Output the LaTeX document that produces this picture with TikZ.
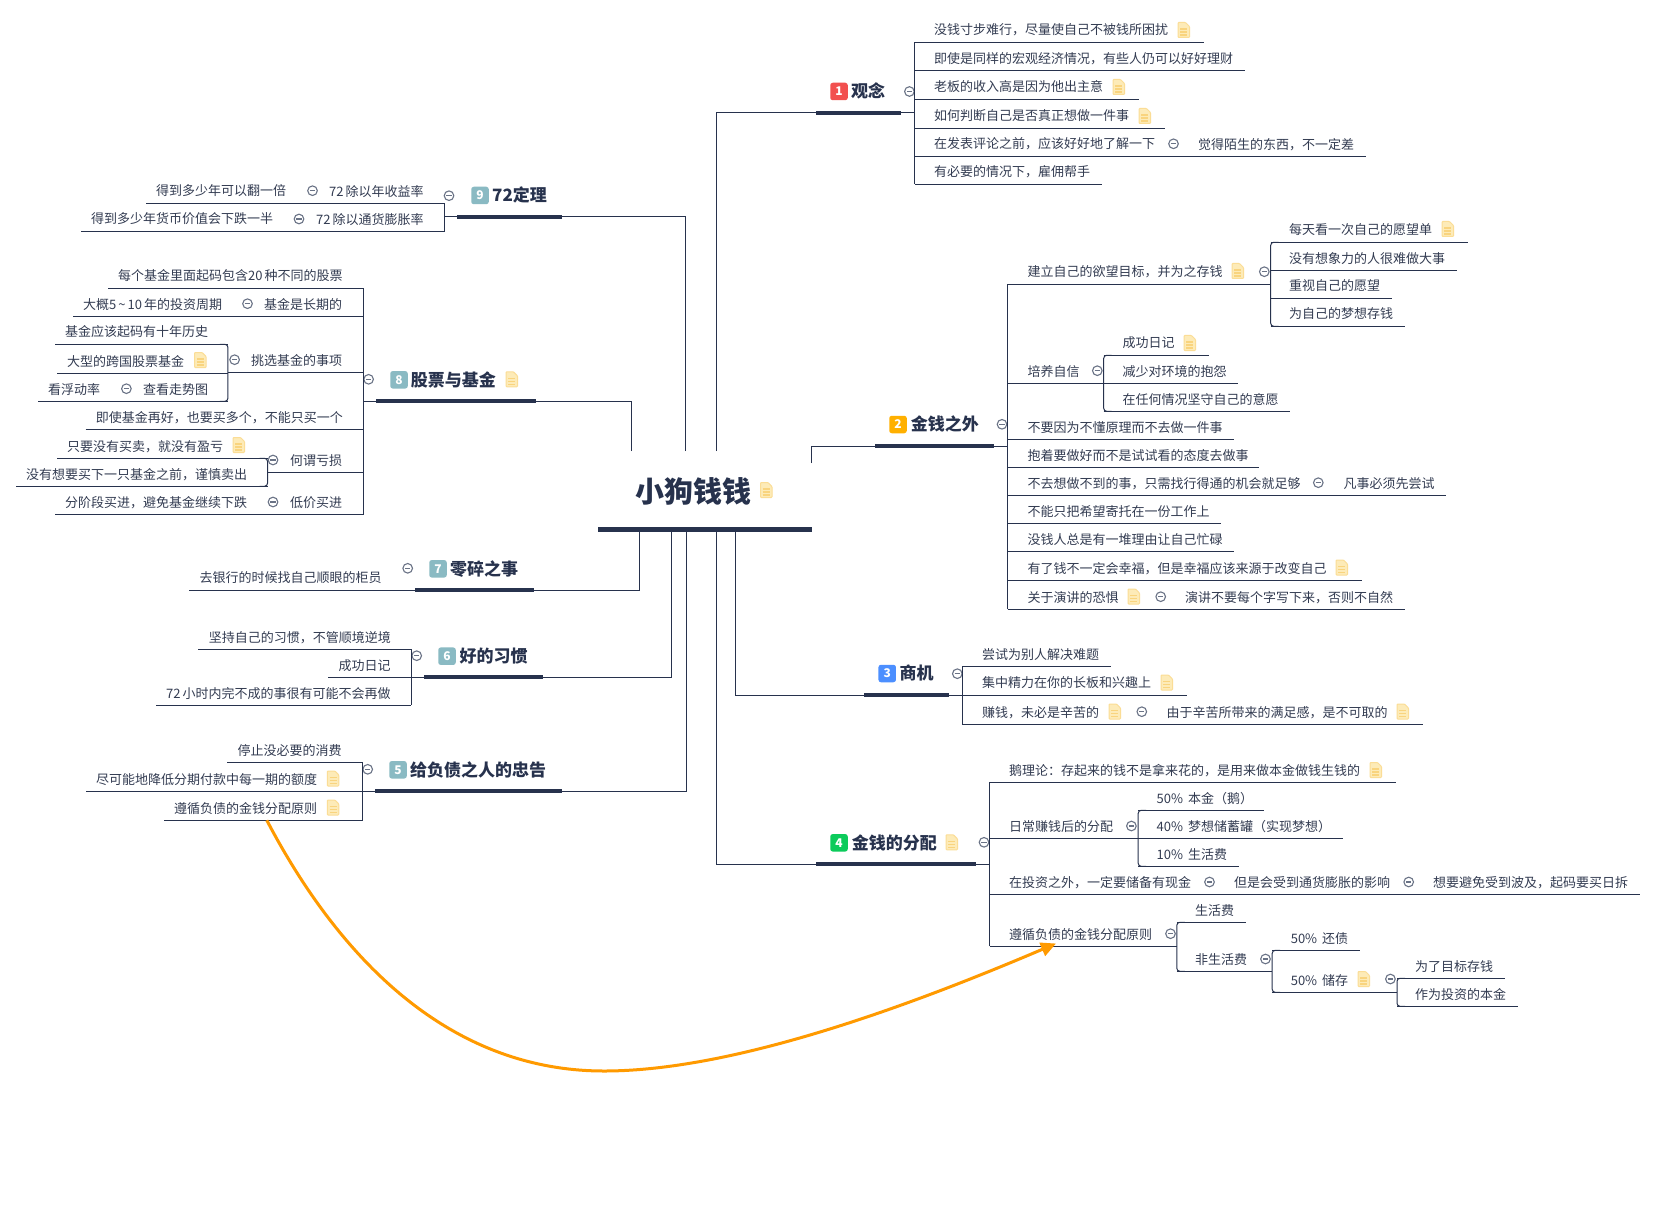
\documentclass[tikz,border=0pt]{standalone}
\usepackage{fontspec}
\setmainfont{Noto Sans CJK SC}
\usetikzlibrary{calc,arrows.meta}
\definecolor{ink}{HTML}{27324D}
\definecolor{rowtext}{HTML}{333C52}
\definecolor{noteFill}{HTML}{FDEBB8}
\definecolor{noteEdge}{HTML}{FBDD96}
\definecolor{noteLine}{HTML}{F9D47E}
\definecolor{knob}{HTML}{6A7386}
\definecolor{redB}{HTML}{F2504F}
\definecolor{orangeB}{HTML}{FFB000}
\definecolor{blueB}{HTML}{4C8FFF}
\definecolor{greenB}{HTML}{0CCB5B}
\definecolor{tealB}{HTML}{8ABAC3}
\definecolor{linkO}{HTML}{FF9A00}
\tikzset{
  conn/.style={draw=ink,line width=1pt},
  barline/.style={draw=ink,line width=4pt},
  rootbar/.style={draw=ink,line width=5pt},
  rowlabel/.style={anchor=west,inner sep=0pt,text=rowtext,text height=10.5pt,text depth=2.5pt,font=\fontsize{13}{15}\selectfont},
  mainlabel/.style={anchor=west,inner sep=0pt,text=ink,text height=14pt,text depth=3pt,font=\fontsize{17}{20}\selectfont\bfseries},
  rootlabel/.style={anchor=west,inner sep=0pt,text=ink,font=\fontsize{29}{33}\selectfont\bfseries},
  badge/.style={anchor=center,inner sep=0pt,minimum width=17.5pt,minimum height=17.5pt,rounded corners=2.5pt,text=white,font=\fontsize{12}{14}\selectfont\bfseries},
  linkarrow/.style={draw=linkO,line width=3pt,-{Triangle[length=15pt,width=14pt]}}
}
% row: name, x0, x1, underline y, text x, text
\newcommand{\rowT}[6]{%
  \node[rowlabel] (#1) at (#5,#4-11.3) {#6};
  \coordinate (#1 l) at (#2,#4);
  \coordinate (#1 r) at (#3,#4);
  \draw[conn] (#1 l) -- (#1 r);}
% extra text on a row: name, x, cy, text
\newcommand{\extraT}[4]{\node[rowlabel] (#1) at (#2,#3+1.6) {#4};}
% digits spacing
\newcommand{\dg}{\kern2pt\relax}
% right / left spines
\newcommand{\spR}[2]{\draw[conn] (#1 l) -- (#2 l);}
\newcommand{\spL}[2]{\draw[conn] (#1 r) -- (#2 r);}
\newcommand{\spRr}[2]{\draw[conn,rounded corners=3pt] ($(#1 l)+(8,0)$) -- (#1 l) -- (#2 l) -- ($(#2 l)+(8,0)$);}
\newcommand{\spLr}[2]{\draw[conn,rounded corners=3pt] ($(#1 r)+(-8,0)$) -- (#1 r) -- (#2 r) -- ($(#2 r)+(-8,0)$);}
% note icon: left x, centre y
\newcommand{\noteI}[2]{%
  \begin{scope}[shift={(#1,#2)}]
    \fill[noteFill,draw=noteEdge,line width=1pt,rounded corners=0.8pt] (0,-7.5) -- (7.5,-7.5) -- (11.5,-3.5) -- (11.5,7.5) -- (0,7.5) -- cycle;
    \draw[noteLine,line width=1.3pt] (2.2,-1) -- (9.2,-1) (2.2,2) -- (9.2,2) (2.2,5) -- (9.2,5);
  \end{scope}}
% collapse knob: x, y
\newcommand{\knobI}[2]{%
  \fill[white] (#1,#2) circle (5pt);
  \draw[knob,line width=1.1pt] (#1,#2) circle (4.8pt);
  \draw[knob,line width=1.1pt] ($(#1,#2)+(-2.6,0)$) -- ($(#1,#2)+(2.6,0)$);}
% main topic: name, badge colour, number, badge cx, text x, cy, text, bar x0, bar y
\newcommand{\mainT}[9]{%
  \node[badge,fill=#2] (#1 b) at (#4,#6+0.5) {#3};
  \node[mainlabel] (#1) at (#5,#6+1.4) {#7};
  \coordinate (#1 L) at (#8,#9);}
\begin{document}
\begin{tikzpicture}[x=1pt,y=-1pt]
\useasboundingbox (0,0) rectangle (1656,1222);
\fill[white] (0,0) rectangle (1656,1222);

%%% root
\node[rootlabel] (root) at (635,491) {小狗钱钱};
\noteI{760.5}{490}
\coordinate (rootL) at (598,529);
\coordinate (rootR) at (812,529);
\draw[rootbar] (rootL) -- (rootR);

%%% 1 观念
\mainT{m1}{redB}{1}{839}{851}{91}{观念}{816}{113}
\coordinate (m1 R) at (901,113);
\draw[barline] (m1 L) -- (m1 R);
\coordinate (up1) at (716,451);
\draw[conn] (up1) |- (m1 L);
\knobI{909.4}{91.5}
\rowT{a1}{914.8}{1203.7}{42.3}{934}{没钱寸步难行，尽量使自己不被钱所困扰}
\noteI{1178}{30}
\rowT{a2}{914.8}{1244.7}{70.5}{934}{即使是同样的宏观经济情况，有些人仍可以好好理财}
\rowT{a3}{914.8}{1138.7}{99.3}{934}{老板的收入高是因为他出主意}
\noteI{1113}{87}
\rowT{a4}{914.8}{1164.7}{128.3}{934}{如何判断自己是否真正想做一件事}
\noteI{1139}{116}
\rowT{a5}{914.8}{1365.6}{156.3}{934}{在发表评论之前，应该好好地了解一下}
\knobI{1173.5}{143.8}
\extraT{a5b}{1198}{143.5}{觉得陌生的东西，不一定差}
\rowT{a6}{914.8}{1101.6}{184.3}{934}{有必要的情况下，雇佣帮手}
\spR{a1}{a6}
\draw[conn] (m1 R) -- (a4 l |- m1 R);

%%% 2 金钱之外
\mainT{m2}{orangeB}{2}{898}{910.7}{424}{金钱之外}{875}{446}
\coordinate (m2 R) at (994,446);
\draw[barline] (m2 L) -- (m2 R);
\coordinate (up2) at (811.3,463);
\draw[conn] (up2) |- (m2 L);
\knobI{1002}{424.3}
\rowT{b1}{1007.5}{1270.7}{284.3}{1027.3}{建立自己的欲望目标，并为之存钱}
\noteI{1232}{271}
\knobI{1264.3}{271.7}
\rowT{b11}{1270.7}{1467.7}{242.3}{1289}{每天看一次自己的愿望单}
\noteI{1442}{229}
\rowT{b12}{1270.7}{1456.7}{270.7}{1289}{没有想象力的人很难做大事}
\rowT{b13}{1270.7}{1391.7}{298.3}{1289}{重视自己的愿望}
\rowT{b14}{1270.7}{1404.7}{326.3}{1289}{为自己的梦想存钱}
\spRr{b11}{b14}
\rowT{b2}{1007.5}{1103.7}{383.3}{1027.3}{培养自信}
\knobI{1097.3}{370.7}
\rowT{b21}{1103.7}{1209.3}{355.3}{1122.3}{成功日记}
\noteI{1184}{343}
\rowT{b22}{1103.7}{1237.7}{383.3}{1122.3}{减少对环境的抱怨}
\rowT{b23}{1103.7}{1289.7}{411.3}{1122.3}{在任何情况坚守自己的意愿}
\spRr{b21}{b23}
\rowT{b3}{1007.5}{1233.7}{439.3}{1027.3}{不要因为不懂原理而不去做一件事}
\rowT{b4}{1007.5}{1259.3}{467.3}{1027.3}{抱着要做好而不是试试看的态度去做事}
\rowT{b5}{1007.5}{1445.7}{495.3}{1027.3}{不去想做不到的事，只需找行得通的机会就足够}
\knobI{1318.3}{482.7}
\extraT{b5b}{1343.3}{482.5}{凡事必须先尝试}
\rowT{b6}{1007.5}{1220.7}{523.3}{1027.3}{不能只把希望寄托在一份工作上}
\rowT{b7}{1007.5}{1233.7}{551.3}{1027.3}{没钱人总是有一堆理由让自己忙碌}
\rowT{b8}{1007.5}{1361.7}{580.3}{1027.3}{有了钱不一定会幸福，但是幸福应该来源于改变自己}
\noteI{1336}{567.5}
\rowT{b9}{1007.5}{1404.6}{609.3}{1027.3}{关于演讲的恐惧}
\noteI{1128}{596.5}
\knobI{1160.7}{596.7}
\extraT{b9b}{1185}{596.5}{演讲不要每个字写下来，否则不自然}
\spR{b1}{b9}
\draw[conn] (m2 R) -- (b1 l |- m2 R);

%%% 3 商机
\mainT{m3}{blueB}{3}{887.2}{899.3}{673}{商机}{864}{695}
\coordinate (m3 R) at (949,695);
\draw[barline] (m3 L) -- (m3 R);
\coordinate (dn3) at (735,532);
\draw[conn] (dn3) |- (m3 L);
\knobI{957.3}{673.7}
\rowT{c1}{962.3}{1110.7}{666.3}{982}{尝试为别人解决难题}
\rowT{c2}{962.3}{1186.8}{695}{982}{集中精力在你的长板和兴趣上}
\noteI{1161}{682.5}
\rowT{c3}{962.3}{1422.5}{724.3}{982}{赚钱，未必是辛苦的}
\noteI{1109}{711.5}
\knobI{1141.8}{711.7}
\extraT{c3b}{1166.4}{711.5}{由于辛苦所带来的满足感，是不可取的}
\noteI{1397}{711.5}
\spR{c1}{c3}
\draw[conn] (m3 R) -- (c1 l |- m3 R);

%%% 4 金钱的分配
\mainT{m4}{greenB}{4}{839}{851.7}{842.3}{金钱的分配}{816}{864}
\coordinate (m4 R) at (975.7,864);
\draw[barline] (m4 L) -- (m4 R);
\coordinate (dn4) at (716,532);
\draw[conn] (dn4) |- (m4 L);
\noteI{946}{842.3}
\knobI{984}{842.3}
\rowT{d1}{989.5}{1395.7}{782.3}{1009}{鹅理论：存起来的钱不是拿来花的，是用来做本金做钱生钱的}
\noteI{1370}{770}
\rowT{d2}{989.5}{1138.2}{838.3}{1009}{日常赚钱后的分配}
\knobI{1131.4}{826}
\rowT{d21}{1138.2}{1264}{810.3}{1156.5}{50\%\dg{} 本金（鹅）}
\rowT{d22}{1138.2}{1342.6}{838.3}{1156.5}{40\%\dg{} 梦想储蓄罐（实现梦想）}
\rowT{d23}{1138.2}{1238.5}{866.3}{1156.5}{10\%\dg{} 生活费}
\spRr{d21}{d23}
\rowT{d3}{989.5}{1639.6}{894.3}{1009}{在投资之外，一定要储备有现金}
\knobI{1209.5}{882}
\extraT{d3b}{1234}{881.5}{但是会受到通货膨胀的影响}
\knobI{1408.7}{882}
\extraT{d3c}{1432.8}{881.5}{想要避免受到波及，起码要买日拆}
\rowT{d4}{989.5}{1176.8}{946.3}{1009}{遵循负债的金钱分配原则}
\knobI{1170.5}{933.7}
\rowT{d41}{1176.8}{1245.7}{922.3}{1195}{生活费}
\rowT{d42}{1176.8}{1272.2}{971.3}{1195}{非生活费}
\spRr{d41}{d42}
\knobI{1265.5}{959}
\rowT{d421}{1272.2}{1359.5}{950.3}{1290.6}{50\%\dg{} 还债}
\rowT{d422}{1272.2}{1397}{992.3}{1290.6}{50\%\dg{} 储存}
\spRr{d421}{d422}
\noteI{1358}{979}
\knobI{1390.4}{979}
\rowT{d4221}{1397}{1504.6}{978.3}{1415}{为了目标存钱}
\rowT{d4222}{1397}{1517.6}{1006.3}{1415}{作为投资的本金}
\spRr{d4221}{d4222}
\spR{d1}{d4}
\draw[conn] (m4 R) -- (d1 l |- m4 R);

%%% 5 给负债之人的忠告
\mainT{m5}{tealB}{5}{398}{410}{769.3}{给负债之人的忠告}{375}{791}
\coordinate (m5 R) at (562,791);
\draw[barline] (m5 L) -- (m5 R);
\coordinate (dn5) at (686.7,532);
\draw[conn] (dn5) |- (m5 R);
\knobI{367.7}{769.3}
\rowT{e1}{227.3}{362.7}{762.3}{237.3}{停止没必要的消费}
\rowT{e2}{86}{362.7}{791.3}{96}{尽可能地降低分期付款中每一期的额度}
\noteI{327.3}{778.5}
\rowT{e3}{164.3}{362.7}{820.3}{174}{遵循负债的金钱分配原则}
\noteI{327.3}{807.5}
\spL{e1}{e3}
\draw[conn] (m5 L) -- (e1 r |- m5 L);

%%% 6 好的习惯
\mainT{m6}{tealB}{6}{447}{459.3}{655.7}{好的习惯}{424}{677}
\coordinate (m6 R) at (542.7,677);
\draw[barline] (m6 L) -- (m6 R);
\coordinate (dn6) at (671.7,532);
\draw[conn] (dn6) |- (m6 R);
\knobI{416.7}{655.7}
\rowT{f1}{198.3}{411.3}{649.3}{208.7}{坚持自己的习惯，不管顺境逆境}
\rowT{f2}{328.3}{411.3}{677.3}{338.3}{成功日记}
\rowT{f3}{156.3}{411.3}{705.3}{166}{72\dg{}小时内完不成的事很有可能不会再做}
\spL{f1}{f3}
\draw[conn] (m6 L) -- (f1 r |- m6 L);

%%% 7 零碎之事
\mainT{m7}{tealB}{7}{438}{450}{568.3}{零碎之事}{415}{590}
\coordinate (m7 R) at (534,590);
\draw[barline] (m7 L) -- (m7 R);
\coordinate (dn7) at (639.3,532);
\draw[conn] (dn7) |- (m7 R);
\knobI{407.7}{568.3}
\rowT{g1}{189.3}{415}{590}{199.3}{去银行的时候找自己顺眼的柜员}

%%% 8 股票与基金
\mainT{m8}{tealB}{8}{399}{410.7}{379.3}{股票与基金}{376}{401}
\coordinate (m8 R) at (535.7,401);
\draw[barline] (m8 L) -- (m8 R);
\coordinate (up8) at (631.7,451);
\draw[conn] (up8) |- (m8 R);
\noteI{506}{379.3}
\knobI{368.6}{379.3}
\rowT{h1}{108}{363.6}{288.3}{117.9}{每个基金里面起码包含20\dg{}种不同的股票}
\rowT{h2}{73}{363.6}{316.3}{83}{大概5\kern2pt\textasciitilde\kern2pt 10\dg{}年的投资周期}
\knobI{247.5}{303.7}
\extraT{h2b}{264}{303.5}{基金是长期的}
\rowT{h3}{227.9}{363.6}{372.3}{251}{挑选基金的事项}
\knobI{234.6}{359.7}
\rowT{h31}{55}{227.9}{344.3}{65}{基金应该起码有十年历史}
\rowT{h32}{57}{227.9}{373.3}{67}{大型的跨国股票基金}
\noteI{194.6}{360}
\rowT{h33}{38}{227.9}{401.3}{48}{看浮动率}
\knobI{126.4}{388.7}
\extraT{h33b}{143}{388.5}{查看走势图}
\spLr{h31}{h33}
\rowT{h4}{85.7}{363.6}{429.3}{95.7}{即使基金再好，也要买多个，不能只买一个}
\rowT{h5}{267.5}{363.6}{472.7}{290}{何谓亏损}
\knobI{273}{460}
\rowT{h51}{57}{267.5}{458.3}{67}{只要没有买卖，就没有盈亏}
\noteI{233}{445}
\rowT{h52}{16}{267.5}{486.3}{26}{没有想要买下一只基金之前，谨慎卖出}
\spLr{h51}{h52}
\rowT{h6}{55}{363.6}{514.3}{65}{分阶段买进，避免基金继续下跌}
\knobI{273}{502}
\extraT{h6b}{290}{501.5}{低价买进}
\spL{h1}{h6}
\draw[conn] (m8 L) -- (h1 r |- m8 L);

%%% 9 72定理
\mainT{m9}{tealB}{9}{480}{492}{195}{72定理}{457}{216.7}
\coordinate (m9 R) at (562,216.7);
\draw[barline] (m9 L) -- (m9 R);
\coordinate (up9) at (685,451);
\draw[conn] (up9) |- (m9 R);
\knobI{449}{195.7}
\rowT{i1}{146}{444.6}{203.3}{156}{得到多少年可以翻一倍}
\knobI{312.5}{190.7}
\extraT{i1b}{329}{190.5}{72\dg{}除以年收益率}
\rowT{i2}{81}{444.6}{231.3}{91}{得到多少年货币价值会下跌一半}
\knobI{299}{219}
\extraT{i2b}{316}{218.5}{72\dg{}除以通货膨胀率}
\spL{i1}{i2}
\draw[conn] (m9 L) -- (i1 r |- m9 L);

%%% relationship arrow
\coordinate (linkS) at (266.8,820.3);
\coordinate (linkE) at (1056,943.5);
\coordinate (linkM) at (604,1071);
\draw[linkarrow] (linkS) .. controls (340,960) and (450,1071) .. (linkM) .. controls (730,1071) and (900,1010) .. (linkE);
\end{tikzpicture}
\end{document}
